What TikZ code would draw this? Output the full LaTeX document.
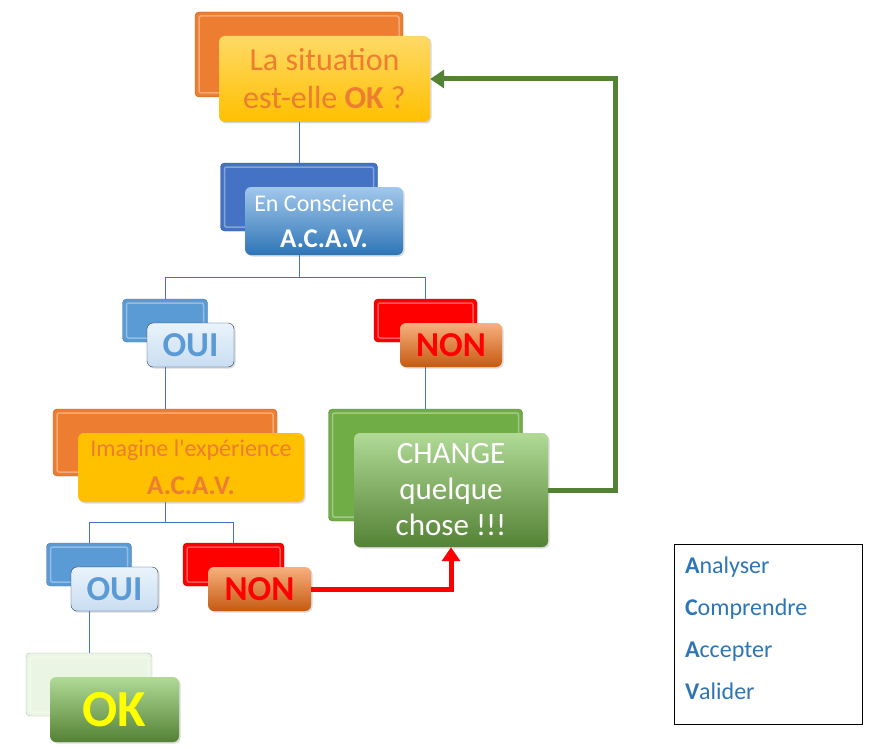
\documentclass[tikz,border=0pt]{standalone}
\usepackage{fontspec}
\setmainfont{Carlito}
\usetikzlibrary{arrows.meta,shadows,backgrounds}
\definecolor{orangeA}{HTML}{ED7D31}
\definecolor{goldA}{HTML}{FFC000}
\definecolor{goldL}{HTML}{FFD966}
\definecolor{blueA}{HTML}{4472C4}
\definecolor{blueB}{HTML}{5B9BD5}
\definecolor{blueL}{HTML}{A2C8EC}
\definecolor{blueD}{HTML}{2E75B6}
\definecolor{paleblue}{HTML}{EAF3FB}
\definecolor{iceblue}{HTML}{C9DEF2}
\definecolor{navy}{HTML}{1F3864}
\definecolor{greenA}{HTML}{70AD47}
\definecolor{greenL}{HTML}{B0DA96}
\definecolor{greenD}{HTML}{548235}
\definecolor{palegreen}{HTML}{EBF5E3}
\definecolor{peach}{HTML}{F8B07E}
\definecolor{rust}{HTML}{C55A11}
\definecolor{redA}{HTML}{FF0000}
\definecolor{lemon}{HTML}{FFFF00}
\newcommand{\acavfont}{\fontsize{27}{30}\selectfont\bfseries}
\begin{document}
\begin{tikzpicture}[x=1pt,y=-1pt,
  wh/.style 2 args={minimum width=#1pt,minimum height=#2pt,inner sep=0pt},
  backbox/.style={rounded corners=4pt,fill=#1,draw=#1!75!black,
    path picture={\draw[white,opacity=.35,line width=1.5pt,rounded corners=2pt]
      ([xshift=4pt,yshift=4pt]path picture bounding box.south west) rectangle
      ([xshift=-4pt,yshift=-4pt]path picture bounding box.north east);}},
  frontbox/.style 2 args={rounded corners=6pt,top color=#1,bottom color=#2,
    drop shadow={opacity=.3,shadow xshift=1.5pt,shadow yshift=-1.5pt}},
  branch/.style={draw=blueA,line width=1pt},
  heavy/.style={draw=#1,line width=5pt,-{Triangle[length=14pt,width=18pt]}},
  bigtext/.style={align=center,font=\fontsize{35}{38}\selectfont\bfseries}
  ]
\useasboundingbox (0,0) rectangle (891,749);
% question
\node[backbox=orangeA,wh={208}{85},at={(299,54.5)}] (sitB) {};
\node[frontbox={goldL}{goldA},wh={211}{86},at={(324.5,79)},align=center,font=\fontsize{32}{38}\selectfont,text=orangeA] (sit) {La situation\\est-elle \textbf{OK} ?};
\node[backbox=blueA,wh={157}{68},at={(299,197)}] (acavB) {};
\node[frontbox={blueL}{blueD},wh={158}{68},at={(324,221)},align=center,font=\fontsize{24}{36}\selectfont,text=white] (acav) {En Conscience\\{\acavfont A.C.A.V.}};
% first answer
\node[backbox=blueB,wh={85}{43},at={(165,320.5)}] (ouiAB) {};
\node[frontbox={paleblue}{iceblue},draw=navy,wh={87}{44},at={(190.5,345)},bigtext,text=blueB] (ouiA) {OUI};
\node[backbox=redA,wh={103}{43},at={(425.5,320.5)}] (nonAB) {};
\node[frontbox={peach}{rust},wh={102}{44},at={(451,345)},bigtext,text=redA] (nonA) {NON};
\node[backbox=orangeA,wh={224}{67},at={(165,442.5)}] (imaB) {};
\node[frontbox={goldA}{goldA},wh={226}{69},at={(191,467.5)},align=center,font=\fontsize{24}{38}\selectfont,text=orangeA] (ima) {Imagine l\textquotesingle expérience\\{\acavfont A.C.A.V.}};
\node[backbox=greenA,wh={194}{112},at={(425.5,465)}] (changeB) {};
\node[frontbox={greenL}{greenD},wh={194}{114},at={(451,490)},align=center,font=\fontsize{31}{36}\selectfont,text=white] (change) {CHANGE\\quelque\\chose !!!};
% second answer
\node[backbox=blueB,wh={85}{43},at={(89,564.5)}] (ouiBB) {};
\node[frontbox={paleblue}{iceblue},draw=navy,wh={87}{44},at={(114.5,589)},bigtext,text=blueB] (ouiB) {OUI};
\node[backbox=redA,wh={101}{43},at={(233.5,564.5)}] (nonBB) {};
\node[frontbox={peach}{rust},wh={103}{44},at={(259.5,589)},bigtext,text=redA] (nonB) {NON};
\node[backbox=palegreen,wh={126}{63},at={(89,684.5)}] (okB) {};
\node[frontbox={greenL}{greenD},wh={129}{65},at={(114.5,709.5)},font=\fontsize{52}{60}\selectfont\bfseries,text=lemon] (ok) {OK};
% legend
\node[draw=black,line width=1pt,wh={188}{180},at={(768,634)}] (legend) {};
\node[at={(legend.center)},yshift=6pt,text width=166pt,align=left,text=blueD,font=\fontsize{24}{42}\selectfont] (legendtext) {\textbf{A}nalyser\\\textbf{C}omprendre\\\textbf{A}ccepter\\\textbf{V}alider};
\begin{pgfonlayer}{background}
\coordinate (splitA) at (299,277);
\coordinate (splitB) at (165,522);
\draw[branch] (sitB) -- (acavB);
\draw[branch] (acavB) |- (splitA) -| (ouiAB);
\draw[branch] (splitA) -| (nonAB);
\draw[branch] (ouiAB) -- (imaB);
\draw[branch] (nonAB) -- (changeB);
\draw[branch] (imaB) |- (splitB) -| (ouiBB);
\draw[branch] (splitB) -| (nonBB);
\draw[branch] (ouiBB) -- (okB);
\end{pgfonlayer}
\draw[heavy=greenD] (change.east) -- ++(67,0) |- (sit.east);
\draw[heavy=redA] (nonB.east) -| (change.south);
\end{tikzpicture}
\end{document}
